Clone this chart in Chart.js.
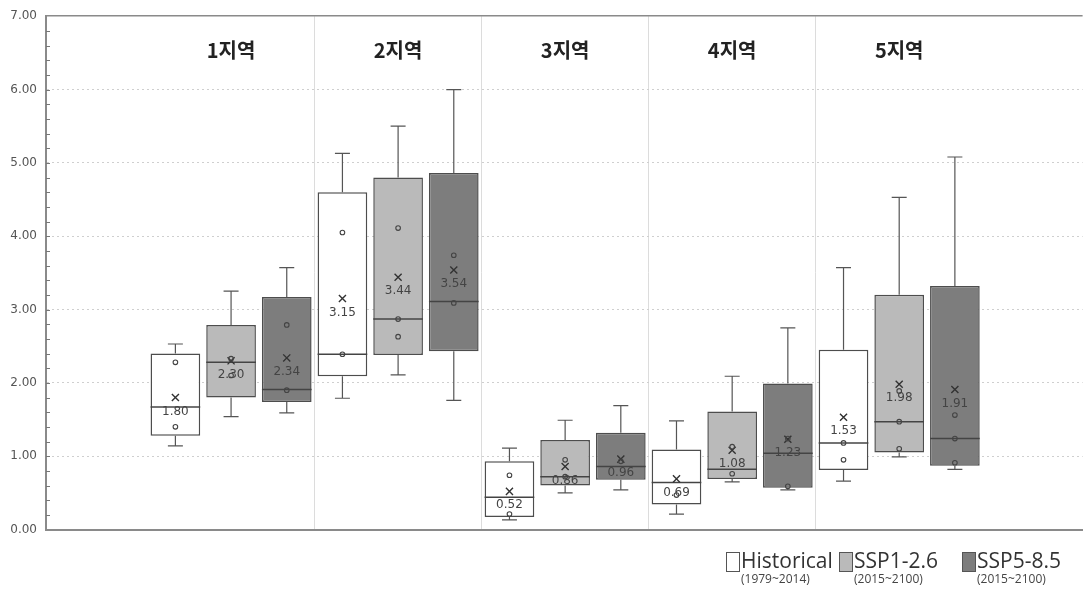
<!DOCTYPE html>
<html>
<head>
<meta charset="utf-8">
<script src="https://cdn.jsdelivr.net/npm/chart.js@4.4.0/dist/chart.umd.min.js"></script>
<style>
  html, body { margin: 0; padding: 0; background: #fff; }
  #wrap { position: relative; width: 1089px; height: 592px; }
  .item { position: absolute; top: 549px; display: flex; align-items: flex-start; font-family: 'Open Sans', sans-serif; color: #333; }
  .sw { width: 12px; height: 18px; border: 1px solid #555; margin-top: 3px; margin-right: 1px; }
  .name { font-size: 21px; line-height: 23px; white-space: nowrap; }
  .per { font-size: 12px; line-height: 14px; color: #444; white-space: nowrap; }
</style>
</head>
<body>
<div id="wrap">
  <canvas id="chart" width="1089" height="592"></canvas>
  <div id="legend"></div>
</div>
<script>
// 지역 구분과 시나리오
const categories = ['1지역', '2지역', '3지역', '4지역', '5지역'];
const seriesNames = ['Historical', 'SSP1-2.6', 'SSP5-8.5'];
const seriesPeriods = ['(1979~2014)', '(2015~2100)', '(2015~2100)'];
const yTicks = [0, 1, 2, 3, 4, 5, 6, 7];

// Historical (1979~2014)
const histMin = [1.14, 1.79, 0.13, 0.21, 0.66];
const histQ1 = [1.28, 2.09, 0.17, 0.34, 0.81];
const histMedian = [1.67, 2.39, 0.44, 0.64, 1.18];
const histQ3 = [2.40, 4.60, 0.93, 1.09, 2.45];
const histMax = [2.53, 5.13, 1.11, 1.48, 3.57];
const histMean = [1.80, 3.15, 0.52, 0.69, 1.53];
const histPoints = [[2.28, 1.40], [4.05, 2.39], [0.74, 0.21], [0.47], [1.18, 0.95]];

// SSP1-2.6 (2015~2100)
const ssp1Min = [1.54, 2.11, 0.50, 0.65, 0.99];
const ssp1Q1 = [1.80, 2.38, 0.60, 0.69, 1.05];
const ssp1Median = [2.28, 2.87, 0.72, 0.82, 1.47];
const ssp1Q3 = [2.79, 4.80, 1.22, 1.61, 3.20];
const ssp1Max = [3.25, 5.50, 1.49, 2.09, 4.53];
const ssp1Mean = [2.30, 3.44, 0.86, 1.08, 1.98];
const ssp1Points = [[2.33, 2.10], [4.11, 2.87, 2.63], [0.95, 0.72], [1.13, 0.76], [1.89, 1.47, 1.10]];

// SSP5-8.5 (2015~2100)
const ssp5Min = [1.59, 1.76, 0.54, 0.54, 0.82];
const ssp5Q1 = [1.74, 2.43, 0.68, 0.57, 0.87];
const ssp5Median = [1.91, 3.11, 0.86, 1.04, 1.24];
const ssp5Q3 = [3.17, 4.86, 1.32, 1.99, 3.32];
const ssp5Max = [3.57, 6.00, 1.69, 2.75, 5.08];
const ssp5Mean = [2.34, 3.54, 0.96, 1.23, 1.91];
const ssp5Points = [[2.79, 1.90], [3.74, 3.09], [0.93], [1.24, 0.59], [1.56, 1.24, 0.91]];

const series = [
    { min: histMin, q1: histQ1, med: histMedian, q3: histQ3, max: histMax, mean: histMean, pts: histPoints },
    { min: ssp1Min, q1: ssp1Q1, med: ssp1Median, q3: ssp1Q3, max: ssp1Max, mean: ssp1Mean, pts: ssp1Points },
    { min: ssp5Min, q1: ssp5Q1, med: ssp5Median, q3: ssp5Q3, max: ssp5Max, mean: ssp5Mean, pts: ssp5Points }
];
const fills = ['#ffffff', '#bababa', '#7d7d7d'];

// x 위치: 지역 번호 + 시나리오 슬롯 (-1/3, 0, +1/3)
const slotX = (gi, si) => gi + 1 + (si - 1) / 3;

const datasets = [];
series.forEach((s, si) => {
    datasets.push({
        type: 'bar',
        label: seriesNames[si],
        data: categories.map((c, gi) => ({ x: gi + 1, y: [s.q1[gi], s.q3[gi]] })),
        backgroundColor: fills[si],
        borderColor: '#4d4d4d',
        borderWidth: 1.5,
        borderSkipped: false,
        categoryPercentage: 1.0,
        barPercentage: 0.892,
        order: 3,
        statIndex: si
    });
});
series.forEach((s, si) => {
    const pts = [];
    s.pts.forEach((arr, gi) => arr.forEach(v => pts.push({ x: slotX(gi, si), y: v })));
    datasets.push({
        type: 'scatter',
        data: pts,
        pointStyle: 'circle',
        pointRadius: 2.3,
        borderColor: '#444',
        borderWidth: 1.1,
        backgroundColor: 'rgba(0,0,0,0)',
        order: 1
    });
    datasets.push({
        type: 'scatter',
        data: s.mean.map((v, gi) => ({ x: slotX(gi, si), y: v })),
        pointStyle: 'crossRot',
        pointRadius: 5,
        borderColor: '#333',
        borderWidth: 1.4,
        order: 1
    });
});

// 수염, 중앙값 선
const boxParts = {
    id: 'boxParts',
    afterDatasetDraw(chart, args) {
        const ds = chart.data.datasets[args.index];
        if (ds.statIndex === undefined) return;
        const s = series[ds.statIndex];
        const y = chart.scales.y;
        const ctx = chart.ctx;
        ctx.save();
        args.meta.data.forEach((bar, gi) => {
            const x = bar.x, half = bar.width / 2;
            ctx.strokeStyle = '#555';
            ctx.lineWidth = 1.2;
            ctx.beginPath();
            ctx.moveTo(x, y.getPixelForValue(s.q3[gi]));
            ctx.lineTo(x, y.getPixelForValue(s.max[gi]));
            ctx.moveTo(x - 7.5, y.getPixelForValue(s.max[gi]));
            ctx.lineTo(x + 7.5, y.getPixelForValue(s.max[gi]));
            ctx.moveTo(x, y.getPixelForValue(s.q1[gi]));
            ctx.lineTo(x, y.getPixelForValue(s.min[gi]));
            ctx.moveTo(x - 7.5, y.getPixelForValue(s.min[gi]));
            ctx.lineTo(x + 7.5, y.getPixelForValue(s.min[gi]));
            ctx.stroke();
            ctx.strokeStyle = '#444';
            ctx.lineWidth = 1.5;
            ctx.beginPath();
            ctx.moveTo(x - half, y.getPixelForValue(s.med[gi]));
            ctx.lineTo(x + half, y.getPixelForValue(s.med[gi]));
            ctx.stroke();
        });
        ctx.restore();
    },
    afterDatasetsDraw(chart) {
        const { ctx, scales: { x, y }, chartArea } = chart;
        ctx.save();
        // 평균값 라벨
        ctx.font = "12px 'DejaVu Sans'";
        ctx.fillStyle = '#444';
        ctx.textAlign = 'center';
        ctx.textBaseline = 'middle';
        series.forEach((s, si) => {
            s.mean.forEach((v, gi) => {
                ctx.fillText(v.toFixed(2), x.getPixelForValue(slotX(gi, si)), y.getPixelForValue(v) + 14);
            });
        });
        // 지역 이름
        ctx.font = "bold 20px 'Noto Sans CJK KR'";
        ctx.fillStyle = '#222';
        categories.forEach((c, gi) => ctx.fillText(c, x.getPixelForValue(gi + 1), 50));
        // 보조 눈금 (0.2 간격)
        ctx.strokeStyle = '#777';
        ctx.lineWidth = 1;
        ctx.beginPath();
        for (let i = 1; i < 35; i++) {
            const py = Math.round(y.getPixelForValue(i / 5)) + 0.5;
            ctx.moveTo(chartArea.left, py);
            ctx.lineTo(chartArea.left + 4, py);
        }
        ctx.stroke();
        ctx.restore();
    }
};

new Chart(document.getElementById('chart'), {
    type: 'bar',
    data: { datasets: datasets },
    options: {
        responsive: false,
        animation: false,
        events: [],
        layout: { padding: { top: 12.5, right: 0, bottom: 62.5, left: 0 } },
        plugins: { legend: { display: false }, tooltip: { enabled: false } },
        scales: {
            x: {
                type: 'linear',
                offset: false,
                min: -0.108,
                max: 6.098,
                afterBuildTicks: (scale) => { scale.ticks = [1.5, 2.5, 3.5, 4.5].map(v => ({ value: v })); },
                afterFit: (scale) => { scale.height = 0; },
                ticks: { display: false },
                grid: { offset: false, color: '#dcdcdc', lineWidth: 1, drawTicks: false },
                border: { color: '#8a8a8a', width: 2 }
            },
            y: {
                min: 0,
                max: 7,
                afterBuildTicks: (scale) => { scale.ticks = yTicks.map(v => ({ value: v })); },
                afterFit: (scale) => { scale.width = 46; },
                ticks: {
                    color: '#555',
                    padding: 9,
                    font: { family: 'DejaVu Sans', size: 12 },
                    callback: (v) => Number(v).toFixed(2)
                },
                grid: {
                    drawTicks: false,
                    color: (c) => c.tick.value === 7 ? '#8a8a8a' : (c.tick.value === 0 ? 'rgba(0,0,0,0)' : '#cfcfcf'),
                    lineWidth: (c) => c.tick.value === 7 ? 1.5 : 1
                },
                border: {
                    color: '#8a8a8a',
                    width: 2,
                    dash: (c) => (c.tick && c.tick.value > 0 && c.tick.value < 7) ? [2, 3] : []
                }
            }
        }
    },
    plugins: [boxParts]
});

// 범례 (두 줄 라벨)
const legendLeft = [726, 839, 962];
const legend = document.getElementById('legend');
seriesNames.forEach((name, si) => {
    const item = document.createElement('div');
    item.className = 'item';
    item.style.left = legendLeft[si] + 'px';
    item.innerHTML = '<span class="sw" style="background:' + fills[si] + '"></span>' +
        '<div><div class="name">' + name + '</div><div class="per">' + seriesPeriods[si] + '</div></div>';
    legend.appendChild(item);
});
</script>
</body>
</html>
